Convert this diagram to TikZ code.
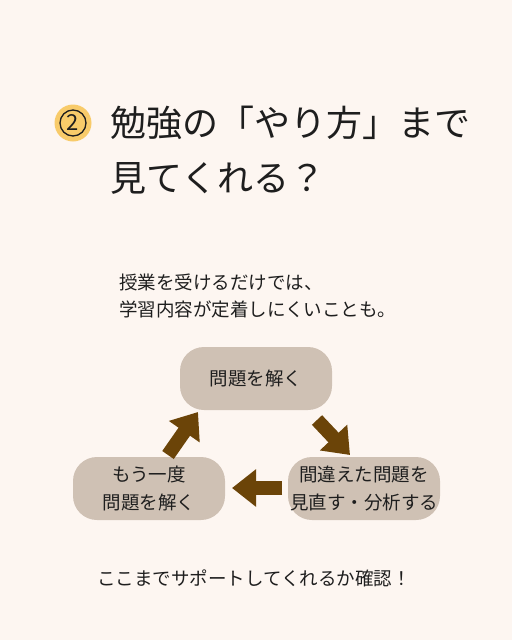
\documentclass[tikz,border=0pt]{standalone}
\usepackage{fontspec}
\setmainfont{Noto Sans CJK JP}
\usetikzlibrary{arrows.meta}
\definecolor{bg}{HTML}{FDF6F1}
\definecolor{boxfill}{HTML}{CFC1B4}
\definecolor{arrowbrown}{HTML}{6B4408}
\definecolor{yel}{HTML}{F8CB6A}
\definecolor{txt}{HTML}{1E1E1E}
\tikzset{
  cyclebox/.style={fill=boxfill, rounded corners=24pt, minimum width=152pt, minimum height=63pt, inner sep=0pt, align=center, text=txt, font=\fontsize{18.5}{28}\selectfont},
  blockarrow/.style={line width=14pt, draw=arrowbrown, -{Triangle[length=24pt,width=36pt]}},
  titletext/.style={anchor=west, inner sep=0pt, text=txt, font=\fontsize{36}{40}\selectfont},
  bodytext/.style={anchor=west, inner sep=0pt, text=txt, font=\fontsize{18.5}{22}\selectfont}
}
\begin{document}
\begin{tikzpicture}[x=1pt,y=-1pt]
\fill[bg] (0,0) rectangle (512,640);
\useasboundingbox (0,0) rectangle (512,640);
% title
\node[circle, fill=yel, minimum size=37pt, inner sep=0pt] (num) at (73,123) {};
\node[circle, draw=txt, line width=1.3pt, minimum size=26pt, inner sep=0pt, text=txt, font=\fontsize{22}{22}\selectfont] (numtxt) at (73,123) {2};
\node[titletext] (t1) at (110,123) {勉強の「やり方」まで};
\node[titletext] (t2) at (110,178) {見てくれる？};
% subtitle
\node[bodytext] (s1) at (119,282) {授業を受けるだけでは、};
\node[bodytext] (s2) at (119,309) {学習内容が定着しにくいことも。};
% cycle
\node[cyclebox] (top) at (256,378.5) {問題を解く};
\node[cyclebox] (right) at (364,488.5) {間違えた問題を\\見直す・分析する};
\node[cyclebox] (left) at (149,488.5) {もう一度\\問題を解く};
\coordinate (a1s) at (317,420);
\coordinate (a1e) at (350,455);
\coordinate (a2s) at (282,488);
\coordinate (a2e) at (232,488);
\coordinate (a3s) at (168,455);
\coordinate (a3e) at (198,412);
\draw[blockarrow] (a1s) -- (a1e);
\draw[blockarrow] (a2s) -- (a2e);
\draw[blockarrow] (a3s) -- (a3e);
% bottom
\node[bodytext] (b1) at (97,578) {ここまでサポートしてくれるか確認！};
\end{tikzpicture}
\end{document}
